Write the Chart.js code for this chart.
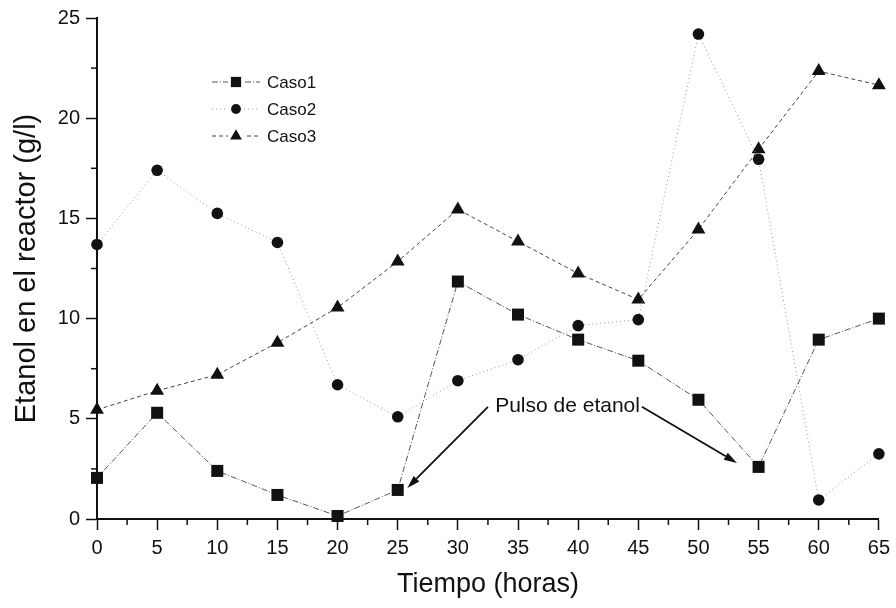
<!DOCTYPE html>
<html>
<head>
<meta charset="utf-8">
<script src="https://cdn.jsdelivr.net/npm/chart.js@4"></script>
<style>
  html, body { margin: 0; padding: 0; background: #fff; }
</style>
</head>
<body>
<canvas id="myChart" width="896" height="608"></canvas>
<script>
// data
const hours = [0, 5, 10, 15, 20, 25, 30, 35, 40, 45, 50, 55, 60, 65];
const caso1 = [2.05, 5.3, 2.4, 1.2, 0.15, 1.45, 11.85, 10.2, 8.95, 7.9, 5.95, 2.6, 8.95, 10.0];
const caso2 = [13.7, 17.4, 15.25, 13.8, 6.7, 5.1, 6.9, 7.95, 9.65, 9.95, 24.2, 17.95, 0.95, 3.25];
const caso3 = [5.45, 6.4, 7.2, 8.8, 10.55, 12.85, 15.45, 13.85, 12.25, 10.95, 14.45, 18.45, 22.35, 21.65];
const seriesNames = ['Caso1', 'Caso2', 'Caso3'];
const xRange = [0, 65];
const yRange = [0, 25];
const tickStep = 5;
const minorStep = 2.5;

// annotation, in data units
const pulseLabel = 'Pulso de etanol';
const pulseTextAt = [33.1, 5.35];
const pulseArrows = [
  [32.5, 5.6, 25.8, 1.55],
  [45.3, 5.6, 53.2, 2.8]
];

const FONT = "'Liberation Sans', Arial, sans-serif";
const INK = '#111';

const toXY = (vals) => hours.map((h, i) => ({ x: h, y: vals[i] }));

const styles = [
  { pointStyle: 'rect', pointRadius: 8.5, borderColor: '#555', borderDash: [6, 2, 1, 2] },
  { pointStyle: 'circle', pointRadius: 5.8, borderColor: '#999', borderDash: [1, 3] },
  { pointStyle: 'triangle', pointRadius: 8, borderColor: '#444', borderDash: [4, 3] }
];

const datasets = [caso1, caso2, caso3].map((vals, i) => ({
  label: seriesNames[i],
  data: toXY(vals),
  borderColor: styles[i].borderColor,
  borderWidth: 1,
  borderDash: styles[i].borderDash,
  pointStyle: styles[i].pointStyle,
  pointRadius: styles[i].pointRadius,
  pointBackgroundColor: INK,
  pointBorderColor: INK,
  pointBorderWidth: 0,
  fill: false,
  tension: 0,
  clip: false
}));

// small ticks every 2.5 between the labelled ones
const minorTicks = {
  id: 'minorTicks',
  afterDraw(chart) {
    const ctx = chart.ctx;
    const xs = chart.scales.x, ys = chart.scales.y;
    const area = chart.chartArea;
    ctx.save();
    ctx.strokeStyle = INK;
    ctx.lineWidth = 1.5;
    for (let v = xRange[0]; v <= xRange[1]; v += minorStep) {
      if (v % tickStep === 0) continue;
      const px = xs.getPixelForValue(v);
      ctx.beginPath();
      ctx.moveTo(px, area.bottom);
      ctx.lineTo(px, area.bottom + 6);
      ctx.stroke();
    }
    for (let v = yRange[0]; v <= yRange[1]; v += minorStep) {
      if (v % tickStep === 0) continue;
      const py = ys.getPixelForValue(v);
      ctx.beginPath();
      ctx.moveTo(area.left, py);
      ctx.lineTo(area.left - 6, py);
      ctx.stroke();
    }
    ctx.restore();
  }
};

function drawMarker(ctx, style, r, x, y) {
  ctx.beginPath();
  if (style === 'rect') {
    const s = r * Math.SQRT1_2;
    ctx.rect(x - s, y - s, 2 * s, 2 * s);
  } else if (style === 'circle') {
    ctx.arc(x, y, r, 0, Math.PI * 2);
  } else {
    ctx.moveTo(x, y - r);
    ctx.lineTo(x + r * Math.sin(Math.PI * 2 / 3), y - r * Math.cos(Math.PI * 2 / 3));
    ctx.lineTo(x + r * Math.sin(Math.PI * 4 / 3), y - r * Math.cos(Math.PI * 4 / 3));
    ctx.closePath();
  }
  ctx.fill();
}

// legend box sitting inside the plot, as in the figure
const insideLegend = {
  id: 'insideLegend',
  afterDraw(chart) {
    const ctx = chart.ctx;
    const rows = [82, 109, 136];
    ctx.save();
    chart.data.datasets.forEach((ds, i) => {
      const y = rows[i];
      ctx.strokeStyle = ds.borderColor;
      ctx.lineWidth = 1;
      ctx.setLineDash(ds.borderDash);
      ctx.beginPath();
      ctx.moveTo(212, y);
      ctx.lineTo(260, y);
      ctx.stroke();
      ctx.setLineDash([]);
      ctx.fillStyle = '#fff';
      ctx.fillRect(228, y - 8, 16, 16);
      ctx.fillStyle = INK;
      drawMarker(ctx, ds.pointStyle, ds.pointRadius * 0.85, 236, y);
      ctx.font = '17px ' + FONT;
      ctx.textBaseline = 'middle';
      ctx.fillText(ds.label, 267, y + 1);
    });
    ctx.restore();
  }
};

const pulseNote = {
  id: 'pulseNote',
  afterDraw(chart) {
    const ctx = chart.ctx;
    const xs = chart.scales.x, ys = chart.scales.y;
    ctx.save();
    ctx.fillStyle = INK;
    ctx.strokeStyle = INK;
    ctx.font = '21px ' + FONT;
    ctx.textBaseline = 'alphabetic';
    ctx.fillText(pulseLabel, xs.getPixelForValue(pulseTextAt[0]), ys.getPixelForValue(pulseTextAt[1]));
    ctx.lineWidth = 1.8;
    pulseArrows.forEach(a => {
      const x0 = xs.getPixelForValue(a[0]), y0 = ys.getPixelForValue(a[1]);
      const x1 = xs.getPixelForValue(a[2]), y1 = ys.getPixelForValue(a[3]);
      const ang = Math.atan2(y1 - y0, x1 - x0);
      const len = 13, half = 4;
      const bx = x1 - Math.cos(ang) * len, by = y1 - Math.sin(ang) * len;
      ctx.beginPath();
      ctx.moveTo(x0, y0);
      ctx.lineTo(bx, by);
      ctx.stroke();
      ctx.beginPath();
      ctx.moveTo(x1, y1);
      ctx.lineTo(bx - Math.sin(ang) * half, by + Math.cos(ang) * half);
      ctx.lineTo(bx + Math.sin(ang) * half, by - Math.cos(ang) * half);
      ctx.closePath();
      ctx.fill();
    });
    ctx.restore();
  }
};

const config = {
  type: 'line',
  data: { datasets: datasets },
  options: {
    responsive: false,
    animation: false,
    layout: { padding: { left: 0, right: 16, top: 18, bottom: 0 } },
    plugins: {
      legend: { display: false },
      tooltip: { enabled: false }
    },
    scales: {
      x: {
        type: 'linear',
        min: xRange[0],
        max: xRange[1],
        afterFit(scale) { scale.height = 89; },
        border: { color: INK, width: 2 },
        grid: { drawOnChartArea: false, drawTicks: true, tickLength: 11, tickColor: INK, tickWidth: 1.5 },
        ticks: { stepSize: tickStep, color: INK, padding: 6, font: { family: FONT, size: 20 }, maxRotation: 0 },
        title: { display: true, text: 'Tiempo (horas)', color: INK, font: { family: FONT, size: 27 }, padding: { top: 0, bottom: 7 } }
      },
      y: {
        min: yRange[0],
        max: yRange[1],
        afterFit(scale) { scale.width = 97; },
        border: { color: INK, width: 2 },
        grid: { drawOnChartArea: false, drawTicks: true, tickLength: 11, tickColor: INK, tickWidth: 1.5 },
        ticks: { stepSize: tickStep, color: INK, padding: 6, font: { family: FONT, size: 20 } },
        title: { display: true, text: 'Etanol en el reactor (g/l)', color: INK, font: { family: FONT, size: 29 }, padding: { top: 10, bottom: 0 } }
      }
    }
  },
  plugins: [minorTicks, insideLegend, pulseNote]
};

const myChart = new Chart(document.getElementById('myChart'), config);
</script>
</body>
</html>
